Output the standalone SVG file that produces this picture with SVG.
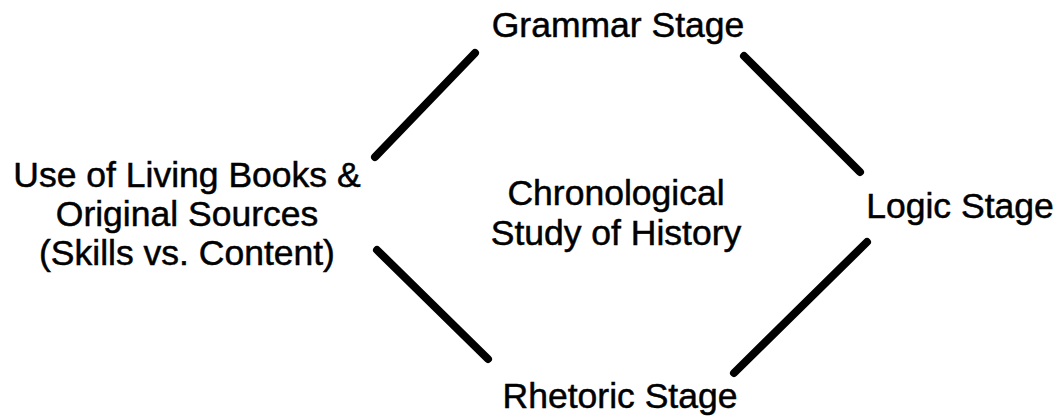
<svg xmlns="http://www.w3.org/2000/svg" width="1059" height="417" viewBox="0 0 1059 417">
<style>
text{font-family:"Liberation Sans",Arial,sans-serif;font-size:35.5px;fill:#000;stroke:#000;stroke-width:0.5;text-anchor:middle}
.c line{stroke:#000;stroke-width:8;stroke-linecap:round}
</style>
<rect width="1059" height="417" fill="#fff"/>
<g id="grammar"><text x="618" y="37">Grammar Stage</text></g>
<g id="logic"><text x="960" y="218">Logic Stage</text></g>
<g id="rhetoric"><text x="620" y="408">Rhetoric Stage</text></g>
<g id="living"><text x="187" y="187">Use of Living Books &amp;</text><text x="187" y="226">Original Sources</text><text x="187" y="265">(Skills vs. Content)</text></g>
<g id="center"><text x="616" y="205">Chronological</text><text x="616" y="245">Study of History</text></g>
<g class="c" id="connectors">
<line x1="475" y1="53" x2="375" y2="157"/>
<line x1="744" y1="56" x2="860" y2="172"/>
<line x1="867" y1="242" x2="734" y2="373"/>
<line x1="377" y1="250" x2="488" y2="359"/>
</g>
</svg>
